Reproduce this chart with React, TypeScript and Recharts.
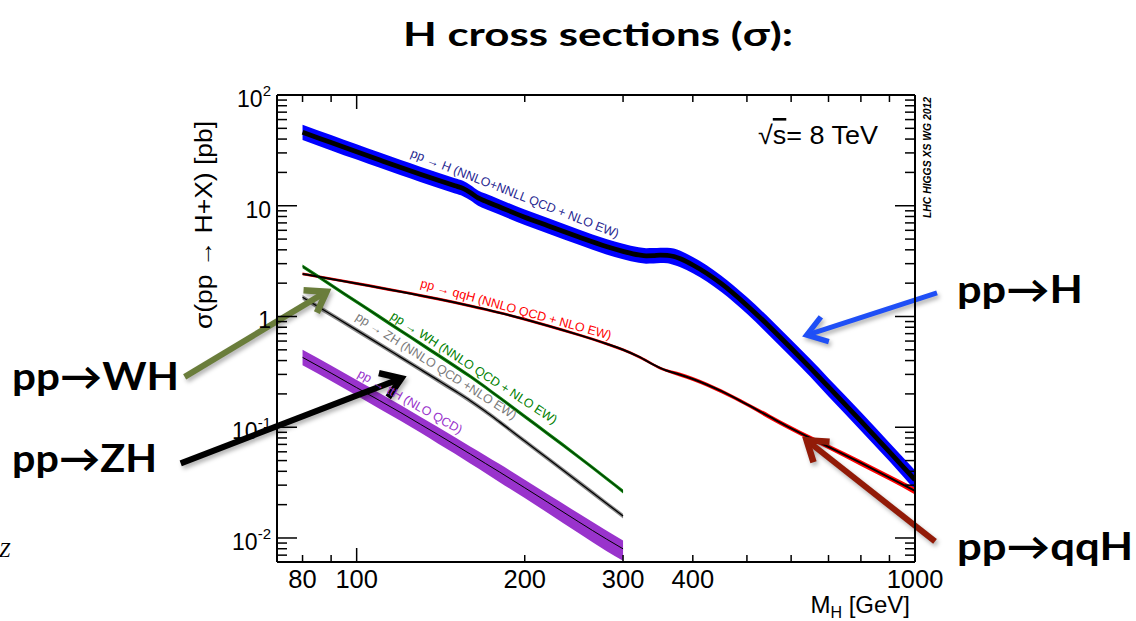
import React from 'react';
import {
  ComposedChart,
  Area,
  Line,
  XAxis,
  YAxis,
  ReferenceLine,
  ReferenceDot,
} from 'recharts';

// Higgs production cross sections at sqrt(s) = 8 TeV, mass in GeV, sigma in pb.

// gluon fusion, pp -> H
const ggfMass = [80, 90, 100, 110, 120, 130, 140, 150, 155, 160, 165, 170, 180, 200, 220, 250, 280, 300, 320, 330, 340, 350, 360, 370, 380, 400, 450, 500, 550, 600, 650, 700, 800, 900, 1000];
const ggfXsec = [46.1, 37.2, 30.7, 25.86, 22.14, 19.26, 16.98, 15.14, 14.36, 13.1, 11.76, 11.01, 9.79, 7.89, 6.61, 5.22, 4.28, 3.874, 3.597, 3.53, 3.542, 3.578, 3.568, 3.48, 3.318, 2.918, 1.978, 1.259, 0.801, 0.517, 0.3418, 0.2312, 0.1136, 0.06, 0.0335];
const ggfErrUp = [17, 17, 17, 17, 17, 17, 17, 17, 17, 17, 17, 17, 17, 17, 17, 17, 17, 17, 17, 17, 17, 17, 17, 18, 18, 18, 18, 19, 19, 19, 20, 20, 21, 21, 22];
const ggfErrDown = [15, 15, 15, 15, 15, 15, 15, 15, 15, 15, 15, 15, 15, 15, 15, 15, 15, 15, 15, 15, 15, 15, 15, 16, 16, 16, 16, 16, 17, 17, 17, 18, 18, 18, 19];

// vector boson fusion, pp -> qqH
const vbfMass = [80, 90, 100, 110, 120, 130, 140, 150, 160, 170, 180, 200, 220, 250, 280, 300, 320, 340, 350, 360, 380, 400, 450, 500, 550, 600, 650, 700, 800, 900, 1000];
const vbfXsec = [2.424, 2.185, 1.987, 1.82, 1.676, 1.55, 1.438, 1.337, 1.245, 1.161, 1.083, 0.944, 0.826, 0.682, 0.5675, 0.501, 0.4335, 0.3681, 0.3413, 0.3236, 0.2983, 0.2727, 0.2116, 0.1609, 0.1238, 0.0978, 0.0797, 0.0665, 0.0476, 0.0351, 0.0266];
const vbfErr = [3, 3, 3, 3, 3, 3, 3, 3, 3, 3, 3, 3, 3, 3, 3, 3, 3, 3, 3, 3, 4, 4, 4, 4, 5, 5, 5, 5, 6, 6, 7];

// associated production, pp -> WH, ZH, ttH
const vhMass = [80, 90, 100, 110, 120, 130, 140, 150, 160, 170, 180, 200, 220, 250, 280, 300];
const whXsec = [2.835, 1.921, 1.356, 0.99, 0.743, 0.5705, 0.4467, 0.3556, 0.2866, 0.2305, 0.186, 0.1251, 0.0874, 0.0538, 0.0346, 0.0263];
const whErr = [4, 4, 4, 4, 4, 4, 4, 4, 4, 4, 4, 4, 4, 4, 4, 4];
const zhXsec = [1.492, 1.041, 0.7524, 0.5602, 0.4276, 0.3335, 0.2647, 0.2129, 0.1726, 0.1392, 0.1124, 0.075, 0.0521, 0.0319, 0.0206, 0.0158];
const zhErr = [5, 5, 5, 5, 5, 5, 5, 5, 5, 5, 5, 5, 5, 5, 5, 5];
const tthXsec = [0.4273, 0.3082, 0.2278, 0.1737, 0.1353, 0.1065, 0.0855, 0.0694, 0.057, 0.0472, 0.0396, 0.0284, 0.021, 0.01396, 0.0098, 0.00798];
const tthErrUp = [17, 17, 17, 17, 17, 17, 17, 17, 17, 18, 18, 18, 18, 19, 19, 19];
const tthErrDown = [15, 15, 15, 16, 16, 16, 17, 17, 18, 18, 19, 19, 20, 21, 22, 22];

// axes
const xDomain = [72, 1000];
const yDomain = [0.00607, 100];
const xTicks = [80, 90, 100, 200, 300, 400, 500, 600, 700, 800, 900, 1000];
const xTickLabels = [80, 100, 200, 300, 400, 1000];
const xMajorTicks = [100, 1000];
const yTicks = [
  0.007, 0.008, 0.009,
  0.01, 0.02, 0.03, 0.04, 0.05, 0.06, 0.07, 0.08, 0.09,
  0.1, 0.2, 0.3, 0.4, 0.5, 0.6, 0.7, 0.8, 0.9,
  1, 2, 3, 4, 5, 6, 7, 8, 9,
  10, 20, 30, 40, 50, 60, 70, 80, 90,
  100,
];
const yTickLabels = [0.01, 0.1, 1, 10, 100];

// rotated process labels written along the curves (anchored in data space)
const curveLabels = [
  { text: 'pp → H (NNLO+NNLL QCD + NLO EW)', m: 124.5, xsec: 27.8, angle: 21.5, color: '#262690' },
  { text: 'pp → qqH (NNLO QCD + NLO EW)', m: 129.7, xsec: 1.85, angle: 15.5, color: '#ff0000' },
  { text: 'pp → WH (NNLO QCD + NLO EW)', m: 114.6, xsec: 0.97, angle: 33, color: '#008000' },
  { text: 'pp → ZH (NNLO QCD +NLO EW)', m: 99.2, xsec: 0.95, angle: 32.5, color: '#7a7a7a' },
  { text: 'pp → ttH (NLO QCD)', m: 100, xsec: 0.289, angle: 29.5, color: '#9933cc' },
];

// pointer arrows: [mass, sigma] of tail and tip
const arrows = [
  { tail: [1095, 1.63], tip: [640, 0.68], color: '#1f4ff6', width: 5 },
  { tail: [49.2, 0.285], tip: [88.3, 1.676], color: '#6a7d3b', width: 6 },
  { tail: [48.4, 0.0472], tip: [120.2, 0.276], color: '#000000', width: 6 },
  { tail: [1086, 0.0093], tip: [639.6, 0.0763], color: '#921b08', width: 6 },
];

const SANS = "'Liberation Sans', Arial, Helvetica, sans-serif";
const BOLD = "Lato, 'Open Sans', 'Liberation Sans', sans-serif";

const bandRows = (mass: number[], xsec: number[], up: number[], down: number[]) =>
  mass.map((m, i) => ({
    m,
    v: xsec[i],
    band: [xsec[i] * (1 - down[i] / 100), xsec[i] * (1 + up[i] / 100)],
  }));

const ggfRows = bandRows(ggfMass, ggfXsec, ggfErrUp, ggfErrDown);
const vbfRows = bandRows(vbfMass, vbfXsec, vbfErr, vbfErr);
const whRows = bandRows(vhMass, whXsec, whErr, whErr);
const zhRows = bandRows(vhMass, zhXsec, zhErr, zhErr);
const tthRows = bandRows(vhMass, tthXsec, tthErrUp, tthErrDown);

const decadeParts = (v: number) => {
  const e = Math.round(Math.log10(v));
  if (e === 0) return { base: '1', exp: '' };
  if (e === 1) return { base: '10', exp: '' };
  return { base: '10', exp: String(e) };
};

const LeftTick = (props: any) => {
  const { x, y, payload } = props;
  const v = payload.value as number;
  const major = yTickLabels.includes(v);
  const { base, exp } = decadeParts(v);
  return (
    <g>
      <line x1={x} y1={y} x2={x + (major ? 20 : 10)} y2={y} stroke="#000" strokeWidth={1.5} />
      {major && (
        <text x={x - 6} y={y + 12} textAnchor="end" fontSize={23} fontFamily={SANS} fill="#000">
          {base}
          {exp && (
            <tspan fontSize={15} dy={-11}>
              {exp}
            </tspan>
          )}
        </text>
      )}
    </g>
  );
};

const RightTick = (props: any) => {
  const { x, y, payload } = props;
  const major = yTickLabels.includes(payload.value);
  return <line x1={x} y1={y} x2={x - (major ? 20 : 10)} y2={y} stroke="#000" strokeWidth={1.5} />;
};

const BottomTick = (props: any) => {
  const { x, y, payload } = props;
  const v = payload.value as number;
  const major = xMajorTicks.includes(v);
  return (
    <g>
      <line x1={x} y1={y} x2={x} y2={y - (major ? 14 : 7)} stroke="#000" strokeWidth={1.5} />
      {xTickLabels.includes(v) && (
        <text x={x} y={y + 26} textAnchor="middle" fontSize={25.5} fontFamily={SANS} fill="#000">
          {v}
        </text>
      )}
    </g>
  );
};

const TopTick = (props: any) => {
  const { x, y, payload } = props;
  const major = xMajorTicks.includes(payload.value);
  return <line x1={x} y1={y} x2={x} y2={y + (major ? 14 : 7)} stroke="#000" strokeWidth={1.5} />;
};

const arrowShape = (color: string, width: number) => (p: any) => {
  const { x1, y1, x2, y2 } = p;
  const ang = Math.atan2(y2 - y1, x2 - x1);
  const head = 23;
  const spread = 0.6;
  const ax = x2 - head * Math.cos(ang - spread);
  const ay = y2 - head * Math.sin(ang - spread);
  const bx = x2 - head * Math.cos(ang + spread);
  const by = y2 - head * Math.sin(ang + spread);
  return (
    <g style={{ filter: 'drop-shadow(2px 3px 2px rgba(0,0,0,0.3))' }}>
      <line x1={x1} y1={y1} x2={x2} y2={y2} stroke={color} strokeWidth={width} />
      <polyline
        points={`${ax},${ay} ${x2},${y2} ${bx},${by}`}
        fill="none"
        stroke={color}
        strokeWidth={width + 0.5}
        strokeLinejoin="miter"
      />
    </g>
  );
};

const curveLabelShape = (text: string, color: string, angle: number) => (p: any) => (
  <text
    x={p.cx}
    y={p.cy}
    fill={color}
    fontSize={12.5}
    fontFamily={SANS}
    transform={`rotate(${angle} ${p.cx} ${p.cy})`}
  >
    {text}
  </text>
);

const series = [
  { rows: ggfRows, band: '#0000ff', line: '#000000', lineWidth: 4.8 },
  { rows: vbfRows, band: '#ff0000', line: '#000000', lineWidth: 2 },
  { rows: whRows, band: '#0a7f0a', line: '#002a00', lineWidth: 1 },
  { rows: zhRows, band: '#8a8a8a', line: '#000000', lineWidth: 1.3 },
  { rows: tthRows, band: '#9933cc', line: '#000000', lineWidth: 1 },
];

export default function App() {
  return (
    <div style={{ position: 'absolute', left: 0, top: 0, width: 1136, height: 621, background: '#fff' }}>
      <ComposedChart width={1136} height={621} margin={{ top: 85, right: 211, bottom: 19, left: 217 }}>
        <XAxis
          xAxisId="b"
          dataKey="m"
          type="number"
          scale="log"
          domain={xDomain}
          allowDataOverflow
          ticks={xTicks}
          interval={0}
          height={40}
          tickSize={0}
          tickMargin={0}
          tickLine={false}
          axisLine={{ stroke: '#000', strokeWidth: 2 }}
          tick={(p: any) => <BottomTick {...p} />}
        />
        <XAxis
          xAxisId="t"
          orientation="top"
          dataKey="m"
          type="number"
          scale="log"
          domain={xDomain}
          allowDataOverflow
          ticks={xTicks}
          interval={0}
          height={10}
          tickSize={0}
          tickMargin={0}
          tickLine={false}
          axisLine={{ stroke: '#000', strokeWidth: 2 }}
          tick={(p: any) => <TopTick {...p} />}
        />
        <YAxis
          yAxisId="l"
          type="number"
          scale="log"
          domain={yDomain}
          allowDataOverflow
          ticks={yTicks}
          interval={0}
          width={60}
          tickSize={0}
          tickMargin={0}
          tickLine={false}
          axisLine={{ stroke: '#000', strokeWidth: 2 }}
          tick={(p: any) => <LeftTick {...p} />}
        />
        <YAxis
          yAxisId="r"
          orientation="right"
          type="number"
          scale="log"
          domain={yDomain}
          allowDataOverflow
          ticks={yTicks}
          interval={0}
          width={10}
          tickSize={0}
          tickMargin={0}
          tickLine={false}
          axisLine={{ stroke: '#000', strokeWidth: 2 }}
          tick={(p: any) => <RightTick {...p} />}
        />

        {series.map((s, i) => (
          <Area
            key={`band-${i}`}
            xAxisId="b"
            yAxisId="l"
            data={s.rows}
            dataKey="band"
            type="monotone"
            fill={s.band}
            fillOpacity={1}
            stroke="none"
            isAnimationActive={false}
            dot={false}
            activeDot={false}
          />
        ))}
        {series.map((s, i) => (
          <Line
            key={`line-${i}`}
            xAxisId="b"
            yAxisId="l"
            data={s.rows}
            dataKey="v"
            type="monotone"
            stroke={s.line}
            strokeWidth={s.lineWidth}
            dot={false}
            activeDot={false}
            isAnimationActive={false}
          />
        ))}

        {curveLabels.map((c, i) => (
          <ReferenceDot
            key={`lab-${i}`}
            xAxisId="b"
            yAxisId="l"
            x={c.m}
            y={c.xsec}
            r={0}
            ifOverflow="visible"
            shape={curveLabelShape(c.text, c.color, c.angle)}
          />
        ))}

        {arrows.map((a, i) => (
          <ReferenceLine
            key={`arr-${i}`}
            xAxisId="b"
            yAxisId="l"
            segment={[
              { x: a.tail[0], y: a.tail[1] },
              { x: a.tip[0], y: a.tip[1] },
            ]}
            ifOverflow="visible"
            shape={arrowShape(a.color, a.width)}
          />
        ))}
      </ComposedChart>

      <svg
        width={1136}
        height={621}
        style={{ position: 'absolute', left: 0, top: 0, pointerEvents: 'none' }}
      >
        <text x={598} y={46} textAnchor="middle" fontFamily={BOLD} fontWeight={700} fontSize={33} textLength={390} lengthAdjust="spacingAndGlyphs">
          H cross sections (σ):
        </text>

        <text transform="rotate(-90)" x={-225} y={212} textAnchor="middle" fontFamily={SANS} fontSize={23} textLength={208} lengthAdjust="spacingAndGlyphs">
          σ(pp → H+X) [pb]
        </text>

        <text x={910} y={613} textAnchor="end" fontFamily={SANS} fontSize={24}>
          M<tspan fontSize={16} dy={5}>H</tspan>
          <tspan dy={-5}> [GeV]</tspan>
        </text>

        <text x={758} y={144} fontFamily={SANS} fontSize={26} textLength={120} lengthAdjust="spacingAndGlyphs">
          √<tspan style={{ textDecoration: 'overline' }}>s</tspan>= 8 TeV
        </text>

        <text
          transform="rotate(-90 931 218)"
          x={931}
          y={218}
          fontFamily={SANS}
          fontWeight={700}
          fontStyle="italic"
          fontSize={10.5}
          textLength={121}
          lengthAdjust="spacingAndGlyphs"
        >
          LHC HIGGS XS WG 2012
        </text>

        <text x={957} y={303} fontFamily={BOLD} fontWeight={700} fontSize={38} textLength={126} lengthAdjust="spacingAndGlyphs">
          pp→H
        </text>
        <text x={957} y={560} fontFamily={BOLD} fontWeight={700} fontSize={38} textLength={176} lengthAdjust="spacingAndGlyphs">
          pp→qqH
        </text>
        <text x={12} y={390} fontFamily={BOLD} fontWeight={700} fontSize={38} textLength={167} lengthAdjust="spacingAndGlyphs">
          pp→WH
        </text>
        <text x={12} y={472} fontFamily={BOLD} fontWeight={700} fontSize={38} textLength={145} lengthAdjust="spacingAndGlyphs">
          pp→ZH
        </text>

        <text x={-1} y={557} fontFamily="'Liberation Serif', serif" fontStyle="italic" fontSize={20}>
          Z
        </text>
      </svg>
    </div>
  );
}
